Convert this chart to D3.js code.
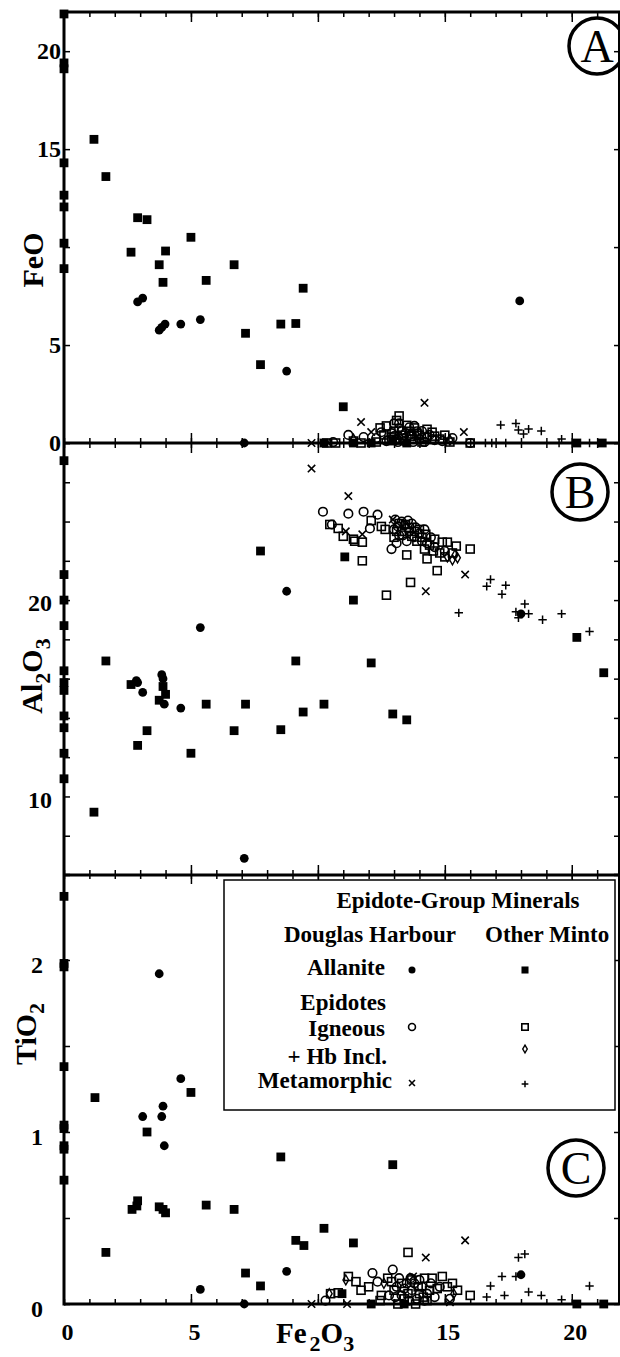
<!DOCTYPE html>
<html>
<head>
<meta charset="utf-8">
<script src="https://cdn.jsdelivr.net/npm/d3@7"></script>
<style>
  body { margin: 0; background: #fff; }
  svg { display: block; }
</style>
</head>
<body>
<div id="chart"></div>
<script>
(function() {
  // data, [Fe2O3, oxide] pairs
  // dh = Douglas Harbour, om = other Minto
  var dhAllaniteA = [[2.9,7.2],[3.1,7.4],[3.75,5.76],[3.85,5.9],[3.98,6.07],[4.6,6.07],[5.37,6.3],[7.1,0],[8.77,3.67],[17.95,7.25]];
  var omAllaniteA = [[0,21.9],[0,19.4],[0,19.1],[0,14.3],[0,12.65],[0,12.05],[0,10.2],[0,8.9],[1.18,15.5],[1.65,13.6],[2.9,11.5],[3.27,11.4],[2.64,9.74],[3.75,9.1],[4.0,9.8],[3.9,8.2],[5.0,10.5],[5.6,8.3],[6.7,9.1],[7.15,5.6],[7.74,4.0],[8.54,6.07],[9.13,6.1],[9.42,7.9],[11.0,1.85],[10.24,0],[11.4,0],[12.1,0],[12.95,0.1],[13.5,0],[20.2,0],[21.2,0]];
  var dhIgneousA = [[11.2,0.41],[11.8,0.3],[12.3,0.25],[13.0,1.0],[13.2,1.0],[13.8,0.87],[14.1,0.61],[14.4,0.41],[15.3,0.25],[16.0,0.0],[12.9,0.5],[13.3,0.65],[13.5,0.3],[13.7,0.45],[14.0,0.2],[13.1,0.2],[12.7,0.1],[14.6,0.15],[14.9,0.1],[10.6,0.05],[12.5,0.55],[13.6,0.8],[13.4,0.1],[14.2,0.05],[13.0,0.35],[13.2,0.75],[13.45,0.5],[13.9,0.6],[14.3,0.3],[14.5,0.2],[13.15,0.05],[13.75,0.05]];
  var omIgneousA = [[13.2,1.38],[12.45,0.77],[12.7,0.87],[12.6,0.41],[13.8,0.77],[10.35,0],[10.7,0],[11.7,0],[16.0,0],[13.0,0.6],[13.3,0.4],[13.5,0.9],[13.9,0.5],[14.2,0.3],[14.5,0.55],[14.8,0.2],[13.1,0.15],[12.9,0.3],[14.1,0.05],[15.0,0.4],[13.7,0.2],[12.3,0.05],[11.4,0.1],[15.2,0.05],[13.6,0.6],[14.3,0.7],[13.1,1.15],[13.35,0.25],[13.65,0.35],[14.0,0.4],[14.6,0.35],[12.8,0.15]];
  var omHbA = [[11.4,0.2],[15.2,0.15]];
  var dhMetaA = [[14.2,2.05],[11.7,1.07],[12.1,0.56],[15.75,0.56],[9.75,0],[13.9,0.3]];
  var omMetaA = [[17.2,0.92],[17.8,1.0],[17.9,0.66],[18.1,0.46],[18.3,0.71],[18.8,0.61],[19.6,0.2],[16.6,0],[16.85,0],[17.4,0],[19.5,0],[20.7,0]];

  var dhAllaniteB = [[2.85,15.9],[2.9,15.8],[3.1,15.3],[3.85,16.2],[3.9,16.0],[3.95,14.7],[4.6,14.5],[5.37,18.6],[7.1,6.85],[8.77,20.45],[18.0,19.3]];
  var omAllaniteB = [[0,27.1],[0,21.3],[0,20.0],[0,18.7],[0,16.4],[0,15.8],[0,15.4],[0,14.1],[0,13.5],[0,12.2],[0,10.9],[1.18,9.2],[1.65,16.9],[2.64,15.7],[2.9,12.6],[3.27,13.35],[3.75,14.9],[3.9,15.6],[4.0,15.2],[5.0,12.2],[5.6,14.7],[6.7,13.35],[7.15,14.7],[7.74,22.5],[8.54,13.4],[9.13,16.9],[9.42,14.3],[10.24,14.7],[11.06,22.2],[11.4,20.0],[12.1,16.8],[12.95,14.2],[13.5,13.9],[20.2,18.1],[21.26,16.3]];
  var dhIgneousB = [[10.2,24.5],[11.2,24.4],[11.8,24.5],[12.35,24.35],[10.55,23.85],[12.05,23.65],[13.05,24.1],[12.9,22.6],[13.1,22.9],[13.0,23.6],[13.2,23.3],[13.4,23.8],[13.6,23.5],[13.3,24.0],[13.8,23.2],[14.0,23.4],[13.5,23.0],[14.3,22.9],[14.6,22.7],[13.7,23.9],[14.2,23.6],[15.0,22.5],[13.15,23.75],[13.35,23.3],[13.55,24.05],[13.85,23.7],[14.1,23.0],[14.45,23.2]];
  var omIgneousB = [[10.47,23.85],[10.8,23.65],[11.0,23.25],[11.4,23.1],[11.45,23.0],[11.75,22.95],[11.75,22.0],[12.1,24.05],[12.5,23.75],[12.65,23.6],[13.5,22.3],[14.3,22.1],[14.7,21.5],[13.65,20.9],[12.7,20.25],[15.1,22.95],[15.45,22.75],[16.0,22.6],[14.9,22.95],[15.3,22.4],[13.0,23.2],[13.3,23.5],[13.6,23.7],[13.9,23.0],[14.1,23.2],[14.4,22.8],[14.6,23.1],[14.8,22.4],[13.2,23.9],[13.8,23.5],[14.2,22.6],[15.0,22.2],[13.1,23.5],[13.45,23.85],[13.7,23.25],[14.0,23.6],[14.25,23.35],[14.55,22.5]];
  var omHbB = [[15.1,22.2],[15.3,22.05],[15.5,22.15],[15.4,22.3]];
  var dhMetaB = [[9.75,26.7],[11.2,25.3],[11.75,23.35],[11.1,23.5],[12.95,24.1],[15.8,21.3],[14.25,20.45]];
  var omMetaB = [[16.8,21.05],[16.65,20.7],[17.4,20.75],[17.25,20.3],[18.15,19.8],[15.55,19.35],[17.8,19.4],[17.9,19.1],[18.3,19.3],[18.85,19.0],[19.6,19.3],[20.7,18.4]];

  var dhAllaniteC = [[3.75,1.92],[4.6,1.31],[3.1,1.09],[3.9,1.15],[3.85,1.09],[3.95,0.92],[5.37,0.085],[7.1,0],[8.77,0.19],[18.0,0.17]];
  var omAllaniteC = [[0,2.37],[0,1.98],[0,1.96],[0,1.38],[0,1.04],[0,1.02],[0,0.92],[0,0.9],[0,0.72],[1.22,1.2],[1.65,0.3],[2.68,0.55],[2.9,0.6],[2.87,0.57],[3.27,1.0],[3.75,0.565],[3.9,0.55],[4.0,0.53],[5.0,1.23],[5.6,0.575],[6.7,0.55],[7.15,0.18],[7.74,0.105],[8.54,0.855],[9.13,0.37],[9.45,0.34],[10.24,0.44],[10.95,0.06],[11.4,0.355],[12.95,0.81],[12.1,0],[13.4,0],[20.2,0],[21.26,0]];
  var dhIgneousC = [[12.15,0.18],[12.95,0.2],[12.35,0.13],[10.3,0.02],[15.2,0.03],[13.1,0.1],[13.3,0.05],[13.5,0.12],[13.7,0.08],[13.9,0.03],[14.1,0.1],[14.3,0.06],[13.2,0.15],[13.6,0.02],[14.0,0.14],[14.6,0.04],[12.8,0.05],[14.8,0.1],[13.05,0.04],[13.4,0.09],[13.8,0.12],[14.2,0.02],[14.45,0.12],[13.65,0.15]];
  var omIgneousC = [[13.55,0.3],[14.9,0.16],[16.0,0.05],[14.2,0.15],[12.75,0.15],[11.2,0.16],[11.5,0.13],[10.5,0.06],[10.8,0.065],[12.5,0.05],[13.85,0],[14.5,0.15],[15.1,0.1],[15.5,0.08],[12.45,0.02],[12.0,0.1],[13.0,0.08],[13.3,0.12],[13.7,0.14],[14.0,0.06],[14.3,0.02],[14.7,0.09],[13.4,0.03],[15.3,0.12],[11.7,0.08],[13.15,0.0],[13.55,0.06],[13.95,0.1],[14.15,0.04],[14.4,0.08],[12.9,0.13]];
  var omHbC = [[11.1,0.14],[10.45,0.06],[15.35,0.06],[12.6,0.12]];
  var dhMetaC = [[15.8,0.37],[14.25,0.27],[13.75,0.16],[9.75,0],[11.15,0],[15.2,0.01]];
  var omMetaC = [[17.9,0.27],[18.15,0.29],[17.25,0.16],[17.8,0.16],[16.8,0.105],[17.35,0.05],[16.65,0.04],[18.3,0.07],[18.8,0.05],[19.6,0.025],[20.7,0.105]];

  // axis text
  var xTickLabels = [0, 5, 15, 20];
  var yTickLabelsA = [0, 5, 15, 20],
      yTickLabelsB = [10, 20],
      yTickLabelsC = [0, 1, 2];

  var W = 620, H = 1357,
      font = '"Liberation Serif", "Times New Roman", serif',
      L = 64, R = 619;

  var svg = d3.select('#chart').append('svg')
    .attr('width', W).attr('height', H)
    .attr('font-family', font);

  var x = d3.scaleLinear().domain([0, 21.9]).range([L, 620]);

  var panels = [
    { y: d3.scaleLinear().domain([0, 22]).range([443, 12]), step: 5,
      labels: yTickLabelsA, pad: 3, shift: 0, letter: 'A', cx: 597, cy: 46,
      title: [['FeO', 0]], tx: 43, ty: 260,
      sets: [[dhIgneousA,'oc'],[omIgneousA,'os'],[omHbA,'dia'],[dhMetaA,'x'],[omMetaA,'plus'],[omAllaniteA,'sq'],[dhAllaniteA,'dot']] },
    { y: d3.scaleLinear().domain([6, 28]).range([875, 443]), step: 2,
      labels: yTickLabelsB, pad: 12, shift: 3, letter: 'B', cx: 580, cy: 492,
      title: [['Al', 0], ['2', 1], ['O', 0], ['3', 1]], tx: 42, ty: 676,
      sets: [[dhIgneousB,'oc'],[omIgneousB,'os'],[omHbB,'dia'],[dhMetaB,'x'],[omMetaB,'plus'],[omAllaniteB,'sq'],[dhAllaniteB,'dot']] },
    { y: d3.scaleLinear().domain([0, 2.5]).range([1304, 874]), step: 0.5,
      labels: yTickLabelsC, pad: 21, shift: 5, letter: 'C', cx: 576, cy: 1168,
      title: [['TiO', 0], ['2', 1]], tx: 36, ty: 1034,
      sets: [[dhIgneousC,'oc'],[omIgneousC,'os'],[omHbC,'dia'],[dhMetaC,'x'],[omMetaC,'plus'],[omAllaniteC,'sq'],[dhAllaniteC,'dot']] }
  ];

  // marker shapes, big for the plot and small for the legend
  function mark(sel, type, k) {
    k = k || 1;
    if (type == 'dot') {
      sel.append('circle').attr('r', 4.4 * k).attr('fill', '#000');
    } else if (type == 'sq') {
      sel.append('rect').attr('x', -4.4 * k).attr('y', -4.4 * k)
        .attr('width', 8.8 * k).attr('height', 8.8 * k).attr('fill', '#000');
    } else if (type == 'oc') {
      sel.append('circle').attr('r', 4.3 * k).attr('fill', 'none')
        .attr('stroke', '#000').attr('stroke-width', 1.6);
    } else if (type == 'os') {
      sel.append('rect').attr('x', -4 * k).attr('y', -4 * k)
        .attr('width', 8 * k).attr('height', 8 * k).attr('fill', 'none')
        .attr('stroke', '#000').attr('stroke-width', 1.6);
    } else if (type == 'dia') {
      sel.append('path').attr('d', d3.symbol(d3.symbolDiamond, 28 * k * k))
        .attr('fill', 'none').attr('stroke', '#000').attr('stroke-width', 1.4);
    } else if (type == 'x') {
      var a = 3.7 * k;
      sel.append('path').attr('d', 'M' + -a + ',' + -a + 'L' + a + ',' + a + 'M' + -a + ',' + a + 'L' + a + ',' + -a)
        .attr('stroke', '#000').attr('stroke-width', 1.6);
    } else if (type == 'plus') {
      var b = 4.2 * k;
      sel.append('path').attr('d', 'M' + -b + ',0H' + b + 'M0,' + -b + 'V' + b)
        .attr('stroke', '#000').attr('stroke-width', 1.5);
    }
  }

  function noDomain(g) {
    g.select('.domain').remove();
    g.selectAll('.tick line').attr('stroke', '#000').attr('stroke-width', 1.5);
  }

  function labelStyle(a) {
    a.select('.domain').remove();
    a.selectAll('text').attr('font-family', font).attr('font-size', 24)
      .attr('font-weight', 'bold').attr('fill', '#000');
  }

  panels.forEach(function(p) {
    var y = p.y,
        top = y.range()[1], bot = y.range()[0],
        g = svg.append('g');

    // points
    p.sets.forEach(function(s) {
      g.append('g').selectAll('g')
        .data(s[0]).enter().append('g')
        .attr('transform', function(d) { return 'translate(' + x(d[0]) + ',' + y(d[1]) + ')'; })
        .each(function() { mark(d3.select(this), s[1]); });
    });

    // x ticks top and bottom
    var minorX = d3.range(0, 22, 1), majorX = [5, 10, 15, 20];
    g.append('g').attr('transform', 'translate(0,' + top + ')')
      .call(d3.axisTop(x).tickValues(minorX).tickSize(-5).tickFormat('')).call(noDomain);
    g.append('g').attr('transform', 'translate(0,' + top + ')')
      .call(d3.axisTop(x).tickValues(majorX).tickSize(-10).tickFormat('')).call(noDomain);
    g.append('g').attr('transform', 'translate(0,' + bot + ')')
      .call(d3.axisBottom(x).tickValues(minorX).tickSize(-5).tickFormat('')).call(noDomain);
    g.append('g').attr('transform', 'translate(0,' + bot + ')')
      .call(d3.axisBottom(x).tickValues(majorX).tickSize(-10).tickFormat('')).call(noDomain);

    // y ticks left and right
    var yt = d3.range(y.domain()[0], y.domain()[1] + 1e-6, p.step);
    g.append('g').attr('transform', 'translate(' + L + ',0)')
      .call(d3.axisLeft(y).tickValues(yt).tickSize(-6).tickFormat('')).call(noDomain);
    g.append('g').attr('transform', 'translate(' + R + ',0)')
      .call(d3.axisRight(y).tickValues(yt).tickSize(-5).tickFormat('')).call(noDomain);

    // y tick labels
    g.append('g').attr('transform', 'translate(' + L + ',' + p.shift + ')')
      .call(d3.axisLeft(y).tickValues(p.labels).tickSize(0).tickPadding(p.pad).tickFormat(d3.format('d')))
      .call(labelStyle);

    // y title
    var t = g.append('text')
      .attr('transform', 'translate(' + p.tx + ',' + p.ty + ') rotate(-90)')
      .attr('text-anchor', 'middle')
      .attr('font-size', 30).attr('font-weight', 'bold');
    var prev = 0;
    p.title.forEach(function(part) {
      t.append('tspan').text(part[0])
        .attr('dy', (part[1] - prev) * 8)
        .attr('font-size', part[1] ? 22 : 30);
      prev = part[1];
    });

    // circled letter
    g.append('circle').attr('cx', p.cx).attr('cy', p.cy).attr('r', 28)
      .attr('fill', 'none').attr('stroke', '#000').attr('stroke-width', 3.5);
    g.append('text').attr('x', p.cx).attr('y', p.cy).attr('dy', '0.35em')
      .attr('text-anchor', 'middle').attr('font-size', 46)
      .text(p.letter);
  });

  // frame
  var frame = svg.append('g').attr('stroke', '#000').attr('fill', 'none');
  frame.append('line').attr('x1', L).attr('x2', L).attr('y1', 11).attr('y2', 1305.5).attr('stroke-width', 3);
  frame.append('line').attr('x1', R).attr('x2', R).attr('y1', 12).attr('y2', 1304).attr('stroke-width', 2);
  [12, 443, 875, 1304].forEach(function(v) {
    frame.append('line').attr('x1', L).attr('x2', 620).attr('y1', v).attr('y2', v).attr('stroke-width', 3);
  });

  // x tick labels
  svg.append('g').attr('transform', 'translate(3,1304)')
    .call(d3.axisBottom(x).tickValues(xTickLabels).tickSize(0).tickPadding(19).tickFormat(d3.format('d')))
    .call(labelStyle);

  // x title
  var xt = svg.append('text').attr('x', 276).attr('y', 1343)
    .attr('font-size', 29).attr('font-weight', 'bold');
  xt.append('tspan').text('Fe');
  xt.append('tspan').text('2').attr('font-size', 22).attr('dx', 3).attr('dy', 8);
  xt.append('tspan').text('O').attr('dy', -8);
  xt.append('tspan').text('3').attr('font-size', 22).attr('dy', 8);

  // legend
  var lg = svg.append('g').attr('font-size', 23).attr('font-weight', 'bold');
  lg.append('rect').attr('x', 224).attr('y', 880).attr('width', 391).attr('height', 230)
    .attr('fill', '#fff').attr('stroke', '#000').attr('stroke-width', 1.5);
  lg.append('text').attr('x', 458).attr('y', 908).attr('text-anchor', 'middle').text('Epidote-Group Minerals');
  lg.append('text').attr('x', 284).attr('y', 942).text('Douglas Harbour');
  lg.append('text').attr('x', 485).attr('y', 942).text('Other Minto');

  var rows = [
    ['Allanite', 975, 385],
    ['Epidotes', 1010, 386],
    ['Igneous', 1036, 385],
    ['+ Hb Incl.', 1064, 387],
    ['Metamorphic', 1088, 392]
  ];
  rows.forEach(function(r) {
    lg.append('text').attr('x', r[2]).attr('y', r[1]).attr('text-anchor', 'end').text(r[0]);
  });

  var keys = [
    ['dot', 412, 970], ['sq', 525, 970],
    ['oc', 412, 1027], ['os', 525, 1027],
    ['dia', 525, 1049],
    ['x', 412, 1083], ['plus', 525, 1084]
  ];
  keys.forEach(function(k) {
    var s = lg.append('g').attr('transform', 'translate(' + k[1] + ',' + k[2] + ')');
    mark(s, k[0], 0.8);
  });
})();
</script>
</body>
</html>
